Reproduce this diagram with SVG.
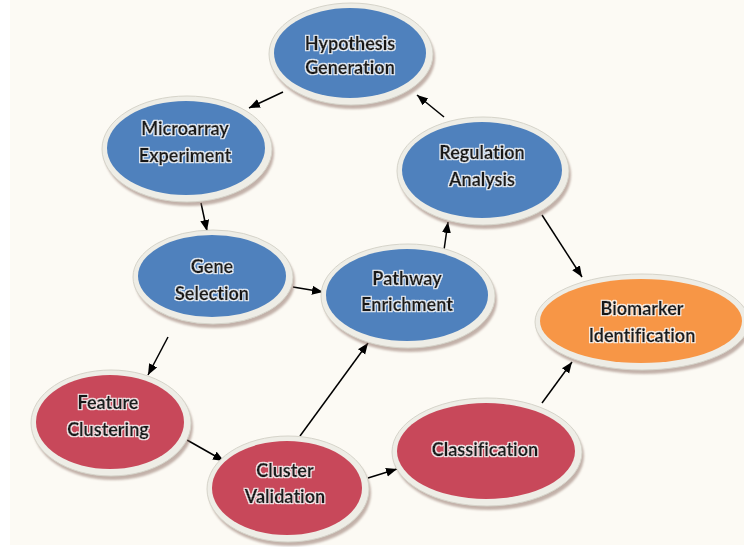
<svg xmlns="http://www.w3.org/2000/svg" width="744" height="547" viewBox="0 0 744 547">
<defs>
<style>
.rim{fill:#eeede6;stroke:#d6d4ca;stroke-width:1}
.sh{fill:#8a6a60;opacity:0.5;filter:url(#blur)}
.blue{fill:#4f81bd}
.red{fill:#c8485a}
.orange{fill:#f79646}
.lbl{font-family:Lato,"Open Sans","DejaVu Sans",sans-serif;font-weight:bold;font-size:18px;fill:#1a1a1a;stroke:#1a1a1a;stroke-width:0.45;text-anchor:middle;font-variant-ligatures:none;filter:url(#glow)}
.con line{stroke:#000;stroke-width:1.5;marker-end:url(#arr)}
</style>
<filter id="blur" x="-10%" y="-10%" width="120%" height="120%"><feGaussianBlur stdDeviation="1.2"/></filter>
<filter id="glow" x="-10%" y="-30%" width="120%" height="160%">
<feMorphology in="SourceAlpha" operator="dilate" radius="1.3" result="d"/>
<feGaussianBlur in="d" stdDeviation="0.6" result="b"/>
<feFlood flood-color="#ffffff" flood-opacity="0.9"/>
<feComposite in2="b" operator="in" result="w"/>
<feMerge><feMergeNode in="w"/><feMergeNode in="SourceGraphic"/></feMerge>
</filter>
<marker id="arr" markerUnits="userSpaceOnUse" markerWidth="12" markerHeight="10" refX="11" refY="4.5" orient="auto"><path d="M0,0 L11,4.5 L0,9 z" fill="#000"/></marker>
</defs>
<rect width="744" height="547" fill="#ffffff"/>
<rect x="10" y="0" width="734" height="545" fill="#fcfaf4"/>

<g class="con">
<line x1="283" y1="92" x2="249" y2="108"/>
<line x1="201" y1="203" x2="207" y2="231"/>
<line x1="293" y1="287" x2="323" y2="292"/>
<line x1="168" y1="337" x2="148" y2="375"/>
<line x1="187" y1="440" x2="224" y2="461"/>
<line x1="300" y1="436" x2="368" y2="343"/>
<line x1="368" y1="478" x2="397" y2="469"/>
<line x1="444" y1="250" x2="448" y2="222"/>
<line x1="444" y1="117" x2="417" y2="95"/>
<line x1="542" y1="215" x2="582" y2="277"/>
<line x1="542" y1="403" x2="572" y2="362"/>
</g>

<g id="hypothesis">
<ellipse class="sh" cx="353" cy="58" rx="82" ry="51"/>
<ellipse class="rim" cx="351" cy="54" rx="82" ry="51"/>
<ellipse class="blue" cx="350" cy="53" rx="76" ry="45"/>
<text class="lbl" x="350" y="50">Hypothesis</text>
<text class="lbl" x="350" y="74">Generation</text>
</g>

<g id="microarray">
<ellipse class="sh" cx="189" cy="153" rx="85" ry="53"/>
<ellipse class="rim" cx="187" cy="149" rx="85" ry="53"/>
<ellipse class="blue" cx="186" cy="148" rx="79" ry="47"/>
<text class="lbl" x="185" y="135">Microarray</text>
<text class="lbl" x="185" y="162">Experiment</text>
</g>

<g id="regulation">
<ellipse class="sh" cx="485" cy="175" rx="86" ry="54"/>
<ellipse class="rim" cx="483" cy="171" rx="86" ry="54"/>
<ellipse class="blue" cx="482" cy="170" rx="80" ry="48"/>
<text class="lbl" x="482" y="159">Regulation</text>
<text class="lbl" x="482" y="186">Analysis</text>
</g>

<g id="gene">
<ellipse class="sh" cx="215" cy="281" rx="80" ry="47"/>
<ellipse class="rim" cx="213" cy="277" rx="80" ry="47"/>
<ellipse class="blue" cx="212" cy="276" rx="74" ry="41"/>
<text class="lbl" x="212" y="273">Gene</text>
<text class="lbl" x="212" y="300">Selection</text>
</g>

<g id="pathway">
<ellipse class="sh" cx="410" cy="300" rx="87" ry="52"/>
<ellipse class="rim" cx="408" cy="296" rx="87" ry="52"/>
<ellipse class="blue" cx="407" cy="295" rx="81" ry="46"/>
<text class="lbl" x="407" y="285">Pathway</text>
<text class="lbl" x="407" y="311">Enrichment</text>
</g>

<g id="biomarker">
<ellipse class="sh" cx="644" cy="326" rx="107" ry="48"/>
<ellipse class="rim" cx="642" cy="322" rx="107" ry="48"/>
<ellipse class="orange" cx="641" cy="321" rx="101" ry="42"/>
<text class="lbl" x="642" y="315">Biomarker</text>
<text class="lbl" x="642" y="342">Identification</text>
</g>

<g id="feature">
<ellipse class="sh" cx="113" cy="427" rx="80" ry="53"/>
<ellipse class="rim" cx="111" cy="423" rx="80" ry="53"/>
<ellipse class="red" cx="110" cy="422" rx="74" ry="47"/>
<text class="lbl" x="108" y="409">Feature</text>
<text class="lbl" x="108" y="436">Clustering</text>
</g>

<g id="cluster-validation">
<ellipse class="sh" cx="290" cy="493" rx="81" ry="53"/>
<ellipse class="rim" cx="288" cy="489" rx="81" ry="53"/>
<ellipse class="red" cx="287" cy="488" rx="75" ry="47"/>
<text class="lbl" x="285" y="477">Cluster</text>
<text class="lbl" x="285" y="503">Validation</text>
</g>

<g id="classification">
<ellipse class="sh" cx="489" cy="456" rx="95" ry="54"/>
<ellipse class="rim" cx="487" cy="452" rx="95" ry="54"/>
<ellipse class="red" cx="486" cy="451" rx="89" ry="48"/>
<text class="lbl" x="485" y="456">Classification</text>
</g>
</svg>
